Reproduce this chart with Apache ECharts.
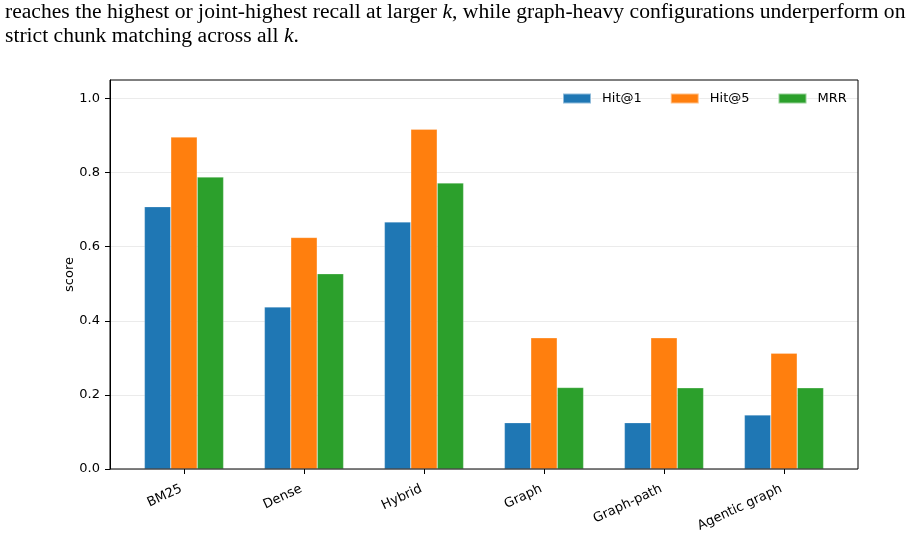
<!DOCTYPE html>
<html><head><meta charset="utf-8">
<script src="https://cdn.jsdelivr.net/npm/echarts@6/dist/echarts.min.js"></script>
<style>html,body{margin:0;padding:0;background:#fff}#c{width:919px;height:546px}</style>
</head><body><div id="c"></div>
<script>
const categories = ['BM25', 'Dense', 'Hybrid', 'Graph', 'Graph-path', 'Agentic graph'];
const hit1 = [0.708, 0.4375, 0.667, 0.125, 0.125, 0.146];
const hit5 = [0.896, 0.625, 0.917, 0.354, 0.354, 0.3125];
const mrr = [0.788, 0.527, 0.772, 0.220, 0.219, 0.219];
const seriesNames = ['Hit@1', 'Hit@5', 'MRR'];
const yTicks = [0, 0.2, 0.4, 0.6, 0.8, 1.0];
const colors = ['#1f77b4', '#ff7f0e', '#2ca02c'];

const font = 'DejaVu Sans';
const chart = echarts.init(document.getElementById('c'), null, {renderer: 'canvas'});
const barStyle = c => ({color: c, borderColor: 'rgba(255,255,255,0.5)', borderWidth: 0.5});
const capRich = {i: {fontFamily: 'Liberation Serif', fontStyle: 'italic', fontSize: 20}};
chart.setOption({
  animation: false,
  textStyle: {fontFamily: font},
  grid: [
    {left: 110, right: 61, top: 80, bottom: 77, show: true, borderColor: '#000', borderWidth: 1, backgroundColor: 'transparent', z: 5},
    {left: 124, right: 75, top: 80, bottom: 77}
  ],
  legend: {
    data: seriesNames, left: 562, top: 92, padding: 0, itemWidth: 28, itemHeight: 10, itemGap: 28,
    icon: 'rect', textStyle: {fontFamily: font, fontSize: 13, color: '#000', padding: [0, 0, 0, 6]}
  },
  xAxis: [
    {type: 'value', gridIndex: 0, min: 0, max: 1, show: false},
    {type: 'category', gridIndex: 1, data: categories,
     axisLine: {show: false},
     axisTick: {show: true, alignWithLabel: true, length: 5, lineStyle: {color: '#000'}},
     axisLabel: {rotate: 25, fontFamily: font, fontSize: 13, color: '#000', margin: 18, padding: [0, 3, 0, 0]}}
  ],
  yAxis: [
    {type: 'value', gridIndex: 0, min: 0, max: 1.05, interval: 0.2,
     name: 'score', nameLocation: 'middle', nameGap: 34, nameRotate: 90, nameMoveOverlap: false,
     nameTextStyle: {fontFamily: font, fontSize: 13, color: '#000'},
     axisLine: {show: true, lineStyle: {color: '#000'}},
     axisTick: {show: true, length: 5, lineStyle: {color: '#000'}, customValues: yTicks},
     axisLabel: {fontFamily: font, fontSize: 13, color: '#000', margin: 10, customValues: yTicks,
                 formatter: v => v.toFixed(1)},
     splitLine: {show: true, lineStyle: {color: '#ebebeb', width: 1}}},
    {type: 'value', gridIndex: 1, min: 0, max: 1.05, show: false, splitLine: {show: false}}
  ],
  series: [
    {name: seriesNames[0], type: 'bar', xAxisIndex: 1, yAxisIndex: 1, data: hit1, barWidth: 26.4, barGap: '0%', itemStyle: barStyle(colors[0])},
    {name: seriesNames[1], type: 'bar', xAxisIndex: 1, yAxisIndex: 1, data: hit5, barWidth: 26.4, barGap: '0%', itemStyle: barStyle(colors[1])},
    {name: seriesNames[2], type: 'bar', xAxisIndex: 1, yAxisIndex: 1, data: mrr, barWidth: 26.4, barGap: '0%', itemStyle: barStyle(colors[2])}
  ],
  graphic: [
    {type: 'text', left: 5, top: 3, scaleX: 1.08, style: {
      text: 'reaches the highest or joint-highest recall at larger {i|k}, while graph-heavy configurations underperform on',
      font: '20px "Liberation Serif"', fill: '#000', rich: capRich}},
    {type: 'text', left: 5, top: 27, scaleX: 1.08, style: {
      text: 'strict chunk matching across all {i|k}.',
      font: '20px "Liberation Serif"', fill: '#000', rich: capRich}}
  ]
});
</script></body></html>
